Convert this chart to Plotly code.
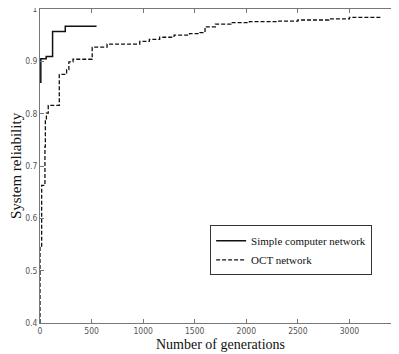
import plotly.graph_objects as go

# Simple computer network (stepwise best reliability)
simple_gen = [0, 0, 8, 60, 122, 245, 548]
simple_rel = [0.86, 0.86, 0.905, 0.909, 0.957, 0.967, 0.967]

# OCT network
oct_gen = [0, 0, 16, 48, 52, 62, 80, 187, 258, 280, 320, 506, 650, 967, 1060,
           1160, 1300, 1450, 1550, 1600, 1700, 1850, 2030, 2300, 2500, 2800,
           3000, 3304]
oct_rel = [0.40, 0.545, 0.663, 0.737, 0.788, 0.801, 0.816, 0.875, 0.884,
           0.899, 0.904, 0.927, 0.933, 0.938, 0.942, 0.946, 0.950, 0.953,
           0.955, 0.966, 0.971, 0.974, 0.976, 0.977, 0.979, 0.981, 0.984,
           0.984]

x_ticks = [0, 500, 1000, 1500, 2000, 2500, 3000, 3500]
y_ticks = [0.4, 0.5, 0.6, 0.7, 0.8, 0.9, 1.0]
y_tick_text = ["0.4", "0.5", "0.6", "0.7", "0.8", "0.9", "1"]

tickfont = dict(family="Liberation Sans Narrow, DejaVu Sans Condensed, Arial Narrow, sans-serif",
                size=8.5, color="#555555")
serif = "Liberation Serif, Times New Roman, serif"

fig = go.Figure()
fig.add_trace(go.Scatter(x=simple_gen, y=simple_rel, mode="lines", line_shape="hv",
                         name="Simple computer network",
                         line=dict(color="#111111", width=1.5)))
fig.add_trace(go.Scatter(x=oct_gen, y=oct_rel, mode="lines", line_shape="hv",
                         name="OCT network",
                         line=dict(color="#111111", width=1.3, dash="4px,2px")))

fig.update_layout(
    width=393, height=346,
    margin=dict(l=32, r=0, t=1, b=31, autoexpand=False),
    paper_bgcolor="white", plot_bgcolor="white",
    showlegend=True,
    legend=dict(x=0.92, y=0.311, xanchor="right", yanchor="top",
                bgcolor="white", bordercolor="#333333", borderwidth=1,
                font=dict(family=serif, size=11, color="#111111"),
                itemwidth=30, tracegroupgap=0),
    xaxis=dict(range=[0, 3500], tickvals=x_ticks, ticks="inside", ticklen=4,
               tickcolor="#777777", showline=True, linecolor="#777777", linewidth=1,
               mirror="ticks", showgrid=False, zeroline=False, tickfont=tickfont,
               automargin=False, ticklabeloverflow="allow",
               title=dict(text="Number of generations", standoff=3,
                          font=dict(family=serif, size=14, color="#111111"))),
    yaxis=dict(range=[0.4, 1.0], tickvals=y_ticks, ticktext=y_tick_text,
               ticks="inside", ticklen=4, tickcolor="#777777", showline=True,
               linecolor="#777777", linewidth=1, mirror="ticks", showgrid=False,
               zeroline=False, tickfont=tickfont, automargin=False,
               ticklabeloverflow="allow",
               title=dict(text="System reliability", standoff=4,
                          font=dict(family=serif, size=15, color="#111111"))),
)

fig.write_html("out.html")
